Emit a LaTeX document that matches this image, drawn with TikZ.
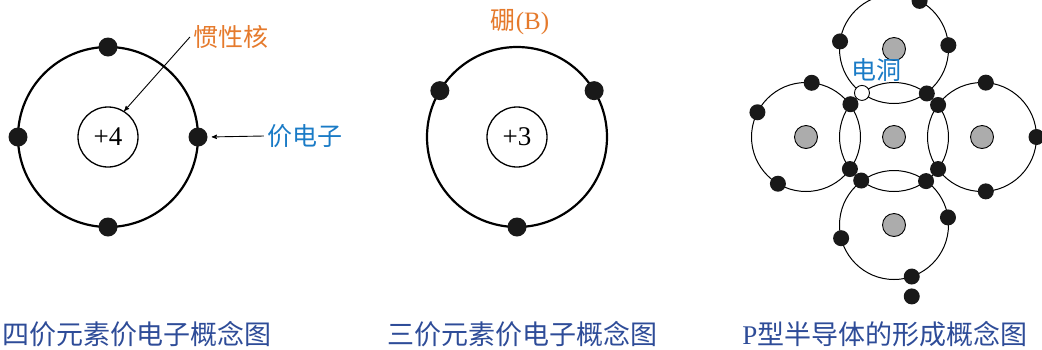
\documentclass[tikz,border=0pt]{standalone}
\usepackage{fontspec}
\setmainfont{Liberation Serif}
\newfontfamily\cjk{Noto Sans CJK SC}
\usetikzlibrary{arrows,shapes,positioning}
\definecolor{tagorange}{HTML}{E57A2C}
\definecolor{tagblue}{HTML}{1A7BC6}
\definecolor{capblue}{HTML}{2E4C98}
\tikzstyle{shell} = [draw,circle,line width=2.2pt,minimum size=180pt,inner sep=0pt,outer sep=0pt]
\tikzstyle{core} = [draw,circle,line width=1.3pt,minimum size=60pt,inner sep=0pt,font=\fontsize{27}{27}\selectfont]
\tikzstyle{electron} = [circle,fill=black!90,minimum size=19pt,inner sep=0pt]
\tikzstyle{orbit} = [draw,circle,line width=1pt,minimum size=109pt,inner sep=0pt,outer sep=0pt]
\tikzstyle{nucleus} = [draw,circle,fill=gray!65,line width=0.9pt,minimum size=23pt,inner sep=0pt]
\tikzstyle{bond} = [circle,fill=black!90,minimum size=16pt,inner sep=0pt]
\tikzstyle{hole} = [draw,circle,fill=white,line width=0.9pt,minimum size=15pt,inner sep=0pt]
\tikzstyle{tag} = [font=\cjk\fontsize{25}{25}\selectfont]
\tikzstyle{caption} = [text=capblue,font=\cjk\fontsize{27}{27}\selectfont]
\tikzstyle{pointer} = [draw,line width=0.9pt,-stealth']

\begin{document}
\begin{tikzpicture}[x=1pt,y=-1pt]
    \useasboundingbox (0,0) rectangle (1042,349);
    % four-valence atom
    \node[shell] (shell4) at (108,137) {};
    \node[core] (core4) at (108,137) {+4};
    \node[electron] (e4n) at (shell4.north) {};
    \node[electron] (e4s) at (shell4.south) {};
    \node[electron] (e4w) at (shell4.west) {};
    \node[electron] (e4e) at (shell4.east) {};
    \node[tag,text=tagorange] (inert) at (231,37) {惯性核};
    \node[tag,text=tagblue] (valence) at (305,136) {价电子};
    \draw[pointer] (inert.west) -- (core4.58);
    \draw[pointer,shorten >=4pt] (valence.west) -- (e4e.east);
    \node[caption] (cap4) at (137,334) {四价元素价电子概念图};

    % boron atom
    \node[shell] (shell3) at (517,137) {};
    \node[core] (core3) at (517,137) {+3};
    \node[electron] (e3a) at (shell3.149) {};
    \node[electron] (e3b) at (shell3.31) {};
    \node[electron] (e3c) at (shell3.south) {};
    \node[text=tagorange,font=\fontsize{25}{25}\selectfont] (boron) at (520,22) {{\cjk 硼}(B)};
    \node[caption] (cap3) at (522,334) {三价元素价电子概念图};

    % p-type lattice
    \node[orbit] (oc) at (894,137) {};
    \node[orbit] (ot) at (894,49) {};
    \node[orbit] (ol) at (806,137) {};
    \node[orbit] (or) at (982,137) {};
    \node[orbit] (ob) at (894,225) {};
    \node[nucleus] (nc) at (oc) {};
    \node[nucleus] (nt) at (ot) {};
    \node[nucleus] (nl) at (ol) {};
    \node[nucleus] (nr) at (or) {};
    \node[nucleus] (nb) at (ob) {};
    \node[hole] (hole) at (oc.126.2) {};
    \node[bond] (s1) at (oc.53.8) {};
    \node[bond] (s2) at (oc.143.8) {};
    \node[bond] (s3) at (oc.216.2) {};
    \node[bond] (s4) at (oc.233.8) {};
    \node[bond] (s5) at (oc.306.2) {};
    \node[bond] (s6) at (oc.-36.2) {};
    \node[bond] (s7) at (oc.36.2) {};
    \node[bond] (et1) at (ot.172) {};
    \node[bond] (et2) at (ot.4) {};
    \node[bond] (et3) at (ot.62) {};
    \node[bond] (el1) at (ol.84) {};
    \node[bond] (el2) at (ol.153) {};
    \node[bond] (el3) at (ol.239) {};
    \node[bond] (er1) at (or.86) {};
    \node[bond] (er2) at (or.0) {};
    \node[bond] (er3) at (or.274) {};
    \node[bond] (eb1) at (ob.8) {};
    \node[bond] (eb2) at (ob.194) {};
    \node[bond] (eb3) at (ob.289) {};
    \node[bond,below=3.5pt of eb3] (extra) {};
    \node[tag,text=tagblue] (holetag) at (876,70) {电洞};
    \node[caption] (capp) at (885,334) {{\rmfamily P}型半导体的形成概念图};
\end{tikzpicture}
\end{document}
